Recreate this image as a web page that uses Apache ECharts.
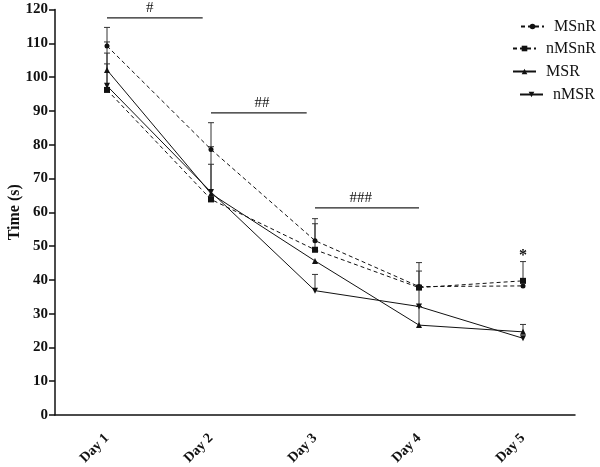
<!DOCTYPE html>
<html>
<head>
<meta charset="utf-8">
<script src="https://cdn.jsdelivr.net/npm/echarts@6/dist/echarts.min.js"></script>
<style>html,body{margin:0;padding:0;background:#fff}#c{width:600px;height:467px}</style>
</head>
<body>
<div id="c"></div>
<script>
var categories = ['Day 1', 'Day 2', 'Day 3', 'Day 4', 'Day 5'];
var yTicks = [0, 120, 10];
var MSnR = [109.2, 78.6, 51.6, 38.0, 38.2];
var nMSnR = [96.2, 63.8, 48.9, 37.7, 39.7];
var MSR = [102.1, 65.5, 45.6, 26.6, 24.6];
var nMSR = [97.4, 66.0, 36.8, 32.1, 22.7];
var MSnR_sd = [5.5, 7.9, 6.5, 4.6, 0];
var nMSnR_sd = [14.2, 15.6, 7.7, 7.4, 5.7];
var MSR_sd = [5.0, 8.7, 0, 5.5, 2.2];
var nMSR_sd = [6.5, 0, 4.8, 5.5, 0];
// significance brackets: [startIndex, endIndex, y, text, textX]
var brackets = [
  [0, 0.92, 117.5, '#', 0.41],
  [1, 1.92, 89.4, '##', 1.49],
  [2, 3.0, 61.3, '###', 2.44]
];
var stars = [[4, 47.0, '*']];

var FONT = '"Liberation Serif", "Times New Roman", serif';

function errData(vals, sd) {
  var out = [];
  for (var i = 0; i < vals.length; i++) {
    if (sd[i] > 0) out.push([i, vals[i], vals[i] + sd[i]]);
  }
  return out;
}

function errSeries(name, vals, sd) {
  return {
    type: 'custom',
    name: name + '_err',
    xAxisIndex: 0, yAxisIndex: 0,
    z: 1,
    silent: true,
    renderItem: function (params, api) {
      var p0 = api.coord([api.value(0), api.value(1)]);
      var p1 = api.coord([api.value(0), api.value(2)]);
      var hw = 3;
      return {
        type: 'group',
        children: [
          { type: 'line', shape: { x1: p0[0], y1: p0[1], x2: p1[0], y2: p1[1] }, style: { stroke: '#333', lineWidth: 1 } },
          { type: 'line', shape: { x1: p1[0] - hw, y1: p1[1], x2: p1[0] + hw, y2: p1[1] }, style: { stroke: '#333', lineWidth: 1 } }
        ]
      };
    },
    encode: { x: 0, y: [1, 2] },
    data: errData(vals, sd)
  };
}

function lineSeries(name, data, symbol, size, dashed) {
  return {
    type: 'line',
    name: name,
    data: data,
    symbol: symbol,
    symbolSize: size,
    z: 3,
    lineStyle: { color: '#111', width: 1, type: dashed ? [4, 3] : 'solid' },
    itemStyle: { color: '#111' },
    emphasis: { disabled: true }
  };
}

var series = [
  errSeries('MSnR', MSnR, MSnR_sd),
  errSeries('nMSnR', nMSnR, nMSnR_sd),
  errSeries('MSR', MSR, MSR_sd),
  errSeries('nMSR', nMSR, nMSR_sd),
  lineSeries('MSnR', MSnR, 'circle', 5, true),
  lineSeries('nMSnR', nMSnR, 'rect', 6, true),
  lineSeries('MSR', MSR, 'triangle', 6, false),
  lineSeries('nMSR', nMSR, 'path://M0,0 L10,0 L5,10 Z', 6, false),
  {
    type: 'custom',
    xAxisIndex: 1, yAxisIndex: 0,
    silent: true,
    renderItem: function (params, api) {
      var a = api.coord([api.value(0), api.value(2)]);
      var b = api.coord([api.value(1), api.value(2)]);
      var t = api.coord([api.value(4), api.value(2)]);
      return {
        type: 'group',
        children: [
          { type: 'line', shape: { x1: a[0], y1: a[1], x2: b[0], y2: b[1] }, style: { stroke: '#222', lineWidth: 1.2 } },
          { type: 'text', x: t[0], y: t[1] - 2, style: { text: brackets[params.dataIndex][3], font: '15px ' + FONT, fill: '#111', align: 'center', verticalAlign: 'bottom' } }
        ]
      };
    },
    data: brackets.map(function (b) { return [b[0], b[1], b[2], 0, b[4]]; })
  },
  {
    type: 'custom',
    xAxisIndex: 0, yAxisIndex: 0,
    silent: true,
    renderItem: function (params, api) {
      var p = api.coord([api.value(0), api.value(1)]);
      return { type: 'text', x: p[0], y: p[1], style: { text: stars[params.dataIndex][2], font: 'bold 16px ' + FONT, fill: '#111', align: 'center', verticalAlign: 'middle' } };
    },
    data: stars.map(function (s) { return [s[0], s[1]]; })
  }
];

function legendAt(name, left, top) {
  return {
    data: [name], left: left, top: top, orient: 'vertical',
    itemWidth: 23, itemHeight: 7, selectedMode: false, padding: 0,
    textStyle: { fontFamily: FONT, fontSize: 16, color: '#111', padding: [0, 0, 0, 5] }
  };
}

var chart = echarts.init(document.getElementById('c'), null, { renderer: 'canvas' });
chart.setOption({
  animation: false,
  backgroundColor: '#fff',
  grid: { left: 55, right: 25, top: 9.5, bottom: 52, containLabel: false, outerBoundsMode: 'none' },
  legend: [
    legendAt('MSnR', 520, 18.5),
    legendAt('nMSnR', 512, 40.5),
    legendAt('MSR', 512, 63.5),
    legendAt('nMSR', 519, 86.5)
  ],
  xAxis: [
    {
      type: 'category', data: categories, boundaryGap: true,
      axisLine: { onZero: false, lineStyle: { color: '#111', width: 1.5 } },
      axisTick: { alignWithLabel: true, length: 5, lineStyle: { color: '#111', width: 1.5 } },
      axisLabel: { rotate: 45, margin: 21, fontFamily: FONT, fontWeight: 'bold', fontSize: 14, color: '#111' },
      splitLine: { show: false }
    },
    { type: 'value', min: -0.5, max: 4.5, show: false }
  ],
  yAxis: {
    type: 'value', min: yTicks[0], max: yTicks[1], interval: yTicks[2],
    name: 'Time (s)', nameLocation: 'middle', nameGap: 32, nameMoveOverlap: false,
    nameTextStyle: { fontFamily: FONT, fontWeight: 'bold', fontSize: 16, color: '#111' },
    axisLine: { show: true, onZero: false, lineStyle: { color: '#111', width: 1.5 } },
    axisTick: { show: true, length: 6, lineStyle: { color: '#111', width: 1.5 } },
    axisLabel: { margin: 7, fontFamily: FONT, fontWeight: 'bold', fontSize: 15, color: '#111' },
    splitLine: { show: false }
  },
  series: series
});
</script>
</body>
</html>
